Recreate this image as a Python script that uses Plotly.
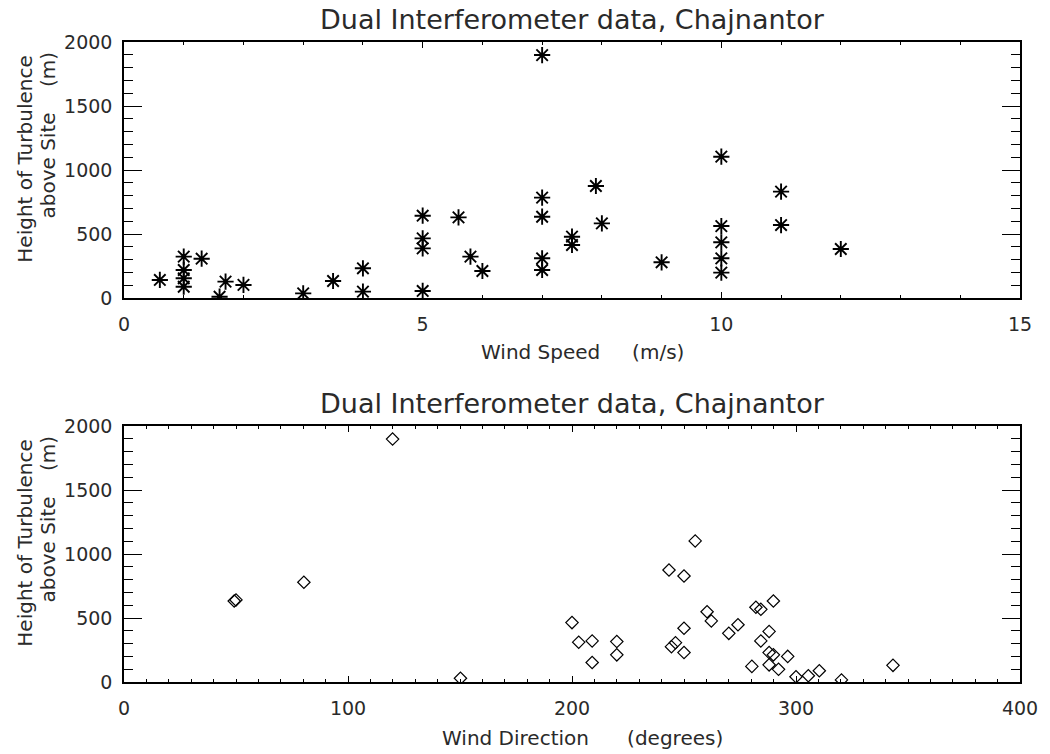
import plotly.graph_objects as go

# ---- data ----
wind_speed = [0.6, 1.0, 1.0, 1.0, 1.0, 1.3, 1.6, 1.7, 2.0, 3.0, 3.5, 4.0, 4.0,
              5.0, 5.0, 5.0, 5.0, 5.6, 5.8, 6.0, 7.0, 7.0, 7.0, 7.0, 7.0,
              7.5, 7.5, 7.9, 8.0, 9.0, 10.0, 10.0, 10.0, 10.0, 10.0, 11.0, 11.0, 12.0]
speed_height = [141, 323, 219, 154, 88, 307, 10, 128, 102, 36, 133, 232, 50,
                643, 466, 388, 55, 630, 323, 211, 1898, 784, 635, 310, 219,
                479, 414, 875, 583, 279, 1104, 562, 435, 310, 198, 831, 570, 383]

wind_dir = [49.2, 50.0, 80.3, 119.9, 150.2, 200, 203, 209, 209, 220, 220,
            243.3, 250, 255, 244.4, 246.2, 250, 250, 260.3, 262.2, 270, 274.1,
            280.3, 282.1, 284.3, 284.3, 288, 288, 289.9, 288, 292.2, 296.3,
            289.9, 300, 305.5, 310.4, 320.3, 343.3]
dir_height = [633, 641, 779, 1898, 29, 464, 311, 321, 152, 316, 212,
              875, 828, 1102, 276, 307, 420, 230, 549, 477, 380, 447,
              122, 584, 568, 321, 395, 230, 212, 134, 99, 200,
              633, 41, 49, 88, 16, 130]

title_text = "Dual Interferometer data, Chajnantor"
ytitle_line1 = "Height of Turbulence"
ytitle_line2 = "above Site\u00a0\u00a0\u00a0\u00a0(m)"
xtitle_top = "Wind Speed\u00a0\u00a0\u00a0\u00a0\u00a0(m/s)"
xtitle_bot = "Wind Direction\u00a0\u00a0\u00a0\u00a0\u00a0\u00a0(degrees)"

# ---- layout geometry (pixels) ----
W, H = 1050, 754
L, R, T, B = 124, 24, 42, 72
PW, PH = W - L - R, H - T - B


def px(x):
    return (x - L) / PW


def py(y):
    return (H - B - y) / PH


FONT = "DejaVu Sans"
TXT = "#2a2a2a"

fig = go.Figure()
fig.add_trace(go.Scatter(
    x=wind_speed, y=speed_height, mode="markers", xaxis="x", yaxis="y",
    marker=dict(symbol="asterisk-open", size=13.5, color="black",
                line=dict(color="black", width=1.9)),
    showlegend=False))
fig.add_trace(go.Scatter(
    x=wind_dir, y=dir_height, mode="markers", xaxis="x2", yaxis="y2",
    marker=dict(symbol="diamond-open", size=9.5, color="black",
                line=dict(color="black", width=1.2)),
    showlegend=False))

common = dict(showline=True, linecolor="black", linewidth=1.5, mirror="allticks",
              ticks="inside", tickcolor="black", tickwidth=1, showgrid=False,
              zeroline=False,
              tickfont=dict(family=FONT, size=19, color=TXT))

xcommon = dict(common, ticklen=6, ticklabelstandoff=8)
ycommon = dict(common, range=[0, 2000], tick0=0, dtick=500, ticklen=18,
               ticklabelstandoff=6,
               minor=dict(dtick=100, ticklen=9, ticks="inside", tickcolor="black",
                          tickwidth=1, showgrid=False))

fig.update_layout(
    width=W, height=H, autosize=False,
    margin=dict(l=L, r=R, t=T, b=B, pad=0),
    plot_bgcolor="white", paper_bgcolor="white",
    xaxis=dict(xcommon, range=[0, 15], tick0=0, dtick=5, domain=[0, 1], anchor="y",
               minor=dict(dtick=1, ticklen=3, ticks="inside", tickcolor="black",
                          tickwidth=1, showgrid=False)),
    yaxis=dict(ycommon, domain=[py(298), 1], anchor="x"),
    xaxis2=dict(xcommon, range=[0, 400], tick0=0, dtick=100, domain=[0, 1], anchor="y2",
                minor=dict(dtick=10, ticklen=3, ticks="inside", tickcolor="black",
                           tickwidth=1, showgrid=False)),
    yaxis2=dict(ycommon, domain=[0, py(426)], anchor="x2"),
)

ann = []


def add_text(text, x, y, size, angle=0):
    ann.append(dict(text=text, x=px(x), y=py(y), xref="paper", yref="paper",
                    xanchor="center", yanchor="middle", showarrow=False,
                    textangle=angle, font=dict(family=FONT, size=size, color=TXT)))


for off in (0, 384):
    add_text(title_text, 575, 19 + off, 27)
    add_text(ytitle_line1, 24, 159 + off, 20, -90)
    add_text(ytitle_line2, 47, 135 + off, 20, -90)

add_text(xtitle_top, 586, 352, 20)
add_text(xtitle_bot, 586, 738, 20)

fig.update_layout(annotations=ann)

fig.write_html("out.html")
